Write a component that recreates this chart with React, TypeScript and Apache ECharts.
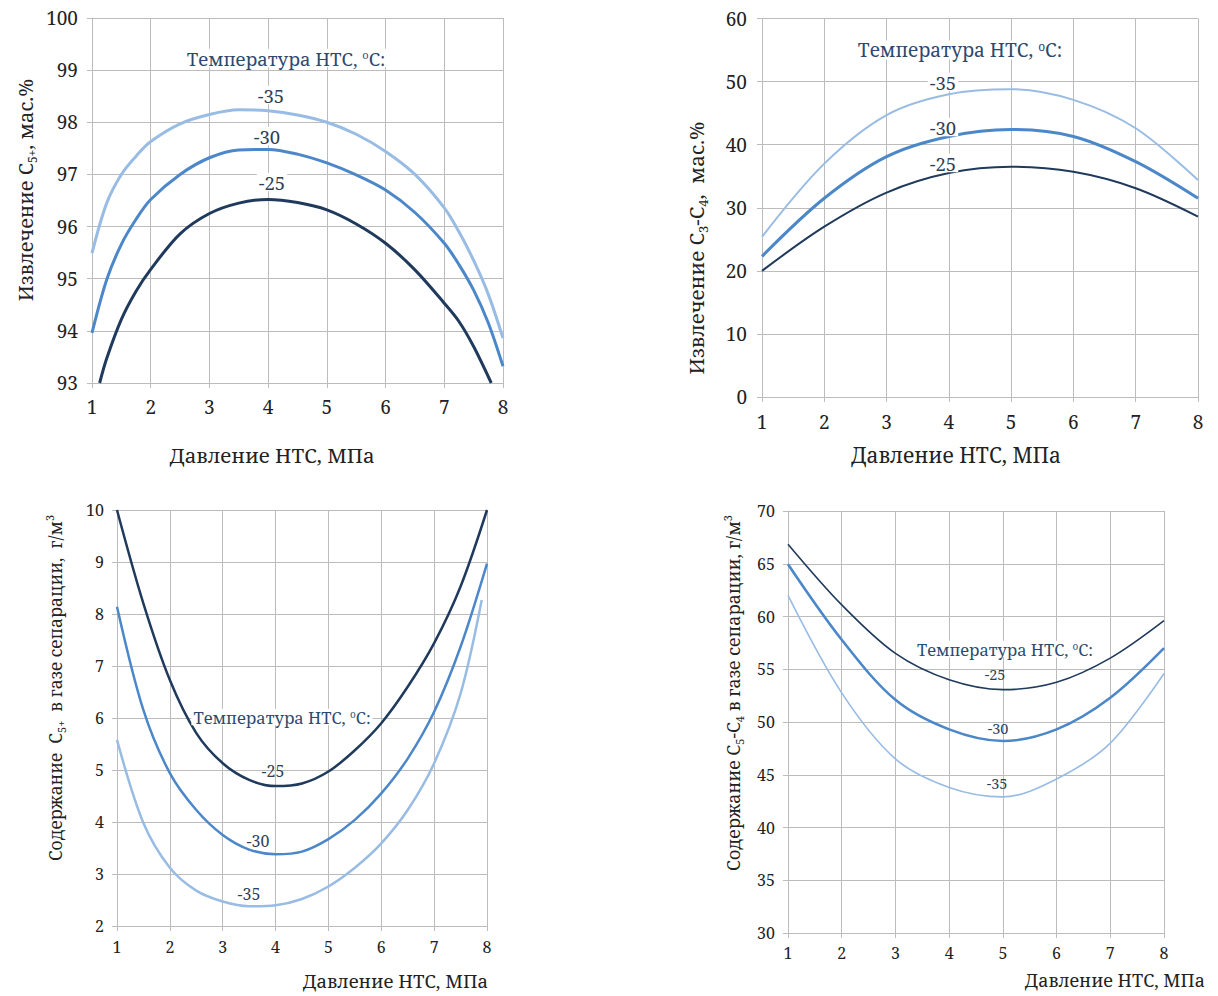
import React, { useEffect, useRef } from "react";
import * as echarts from "echarts";

// ---------- data ----------
const tempLabels = ["-35", "-30", "-25"];

// Panel 1: Извлечение C5+, мас.%
const p1X = [1, 1.25, 1.5, 1.75, 2, 2.5, 3, 3.5, 4, 4.5, 5, 5.5, 6, 6.5, 7, 7.25, 7.5, 7.75, 8];
const p1Minus35 = [95.49, 96.45, 97.0, 97.35, 97.63, 97.97, 98.15, 98.24, 98.22, 98.14, 98.0, 97.77, 97.44, 97.0, 96.36, 95.9, 95.35, 94.7, 93.86];
const p1Minus30 = [93.96, 94.98, 95.66, 96.14, 96.52, 97.0, 97.32, 97.47, 97.48, 97.39, 97.22, 96.99, 96.7, 96.27, 95.68, 95.27, 94.78, 94.15, 93.32];
const p1Minus25X = [1.13, 1.25, 1.5, 1.75, 2, 2.5, 3, 3.5, 4, 4.5, 5, 5.5, 6, 6.5, 7, 7.25, 7.5, 7.8];
const p1Minus25 = [93.0, 93.47, 94.22, 94.76, 95.18, 95.86, 96.25, 96.45, 96.52, 96.46, 96.32, 96.05, 95.68, 95.17, 94.53, 94.18, 93.7, 93.0];

// Panel 2: Извлечение C3-C4, мас.%
const p2X = [1, 2, 3, 4, 5, 6, 7, 8];
const p2Minus35 = [25.4, 37.0, 44.7, 48.0, 48.8, 47.1, 42.6, 34.4];
const p2Minus30 = [22.3, 31.5, 38.1, 41.3, 42.4, 41.3, 37.3, 31.5];
const p2Minus25 = [20.0, 27.0, 32.4, 35.5, 36.5, 35.7, 33.1, 28.6];

// Panel 3: Содержание C5+ в газе сепарации, г/м3
const p3X = [1, 1.5, 2, 2.5, 3, 3.5, 4, 4.5, 5, 5.5, 6, 6.5, 7, 7.5, 8];
const p3Minus25 = [10.0, 8.2, 6.73, 5.71, 5.13, 4.81, 4.69, 4.74, 4.97, 5.38, 5.9, 6.6, 7.44, 8.53, 10.0];
const p3Minus30 = [8.14, 6.15, 4.94, 4.23, 3.75, 3.47, 3.38, 3.43, 3.67, 4.04, 4.55, 5.22, 6.12, 7.37, 8.97];
const p3Minus35X = [1, 1.5, 2, 2.5, 3, 3.5, 4, 4.5, 5, 5.5, 6, 6.5, 7, 7.5, 7.9];
const p3Minus35 = [5.58, 3.98, 3.12, 2.68, 2.47, 2.38, 2.4, 2.52, 2.76, 3.12, 3.59, 4.23, 5.13, 6.47, 8.27];

// Panel 4: Содержание C5-C4 в газе сепарации, г/м3
const p4X = [1, 2, 3, 4, 5, 6, 7, 8];
const p4Minus25 = [66.85, 61.1, 56.5, 54.0, 53.07, 53.76, 56.05, 59.6];
const p4Minus30 = [64.96, 57.8, 52.1, 49.3, 48.2, 49.3, 52.3, 57.0];
const p4Minus35 = [62.0, 52.76, 46.5, 43.8, 42.9, 44.6, 48.0, 54.6];

const xTitle = "Давление НТС, МПа";
const legendTitle = "Температура НТС, {sup|o}С:";

// ---------- styles ----------
const FONT = "Noto Serif";
const DARK = "#1f3a5c";
const MID = "#4b87c9";
const LIGHT = "#98bce3";
const GRID = "#bcbcbc";
const LABEL = "#2e3f55";
const TITLE_BLUE = "#2c4a6e";

const zip = (xs: number[], ys: number[]) => xs.map((x, i) => [x, ys[i]]);

function App() {
  const ref = useRef<HTMLDivElement>(null);

  useEffect(() => {
    if (!ref.current) return;
    const chart = echarts.init(ref.current, null, { renderer: "svg" });

    const grids = [
      { left: 92, top: 18, width: 411, height: 365 },
      { left: 762, top: 18.5, width: 436, height: 378.5 },
      { left: 117, top: 510, width: 370, height: 416 },
      { left: 788, top: 511, width: 376, height: 422 },
    ];
    const yCfg = [
      { min: 93, max: 100, interval: 1, fs: 19, margin: 14 },
      { min: 0, max: 60, interval: 10, fs: 19, margin: 15 },
      { min: 2, max: 10, interval: 1, fs: 16, margin: 13 },
      { min: 30, max: 70, interval: 5, fs: 16, margin: 13 },
    ];
    const xCfg = [
      { fs: 19, margin: 14 },
      { fs: 19, margin: 15 },
      { fs: 16, margin: 13 },
      { fs: 16, margin: 12 },
    ];

    const axisCommon = {
      axisLine: { show: true, lineStyle: { color: GRID, width: 1 } },
      axisTick: { show: true, length: 5, inside: false, lineStyle: { color: GRID } },
      splitLine: { show: true, lineStyle: { color: GRID, width: 1 } },
    };

    const xAxis = grids.map((_, i) => ({
      type: "value",
      gridIndex: i,
      min: 1,
      max: 8,
      interval: 1,
      ...axisCommon,
      axisLabel: { color: "#222", fontFamily: FONT, fontSize: xCfg[i].fs, margin: xCfg[i].margin },
    }));
    const yAxis = grids.map((_, i) => ({
      type: "value",
      gridIndex: i,
      min: yCfg[i].min,
      max: yCfg[i].max,
      interval: yCfg[i].interval,
      ...axisCommon,
      axisLabel: { color: "#222", fontFamily: FONT, fontSize: yCfg[i].fs, margin: yCfg[i].margin },
    }));

    const line = (i: number, name: string, data: number[][], color: string, width: number) => ({
      type: "line",
      name,
      xAxisIndex: i,
      yAxisIndex: i,
      data,
      smooth: 0.33,
      showSymbol: false,
      symbol: "none",
      lineStyle: { color, width },
      clip: true,
    });

    const series = [
      line(0, tempLabels[0], zip(p1X, p1Minus35), LIGHT, 3),
      line(0, tempLabels[1], zip(p1X, p1Minus30), MID, 3),
      line(0, tempLabels[2], zip(p1Minus25X, p1Minus25), DARK, 3),
      line(1, tempLabels[0], zip(p2X, p2Minus35), LIGHT, 2),
      line(1, tempLabels[1], zip(p2X, p2Minus30), MID, 3),
      line(1, tempLabels[2], zip(p2X, p2Minus25), DARK, 2),
      line(2, tempLabels[0], zip(p3Minus35X, p3Minus35), LIGHT, 2.5),
      line(2, tempLabels[1], zip(p3X, p3Minus30), MID, 2.5),
      line(2, tempLabels[2], zip(p3X, p3Minus25), DARK, 2.5),
      line(3, tempLabels[0], zip(p4X, p4Minus35), LIGHT, 1.6),
      line(3, tempLabels[1], zip(p4X, p4Minus30), MID, 2.6),
      line(3, tempLabels[2], zip(p4X, p4Minus25), DARK, 1.6),
    ];

    const txt = (
      x: number,
      y: number,
      text: string,
      fontSize: number,
      opts: any = {}
    ) => {
      const small = Math.round(fontSize * 0.62);
      const color = opts.color || "#222";
      return {
        type: "text",
        x,
        y,
        rotation: opts.rotation || 0,
        z: 100,
        style: {
          text,
          fontFamily: FONT,
          fontSize,
          lineHeight: opts.tight ? fontSize : Math.round(fontSize * 1.3),
          fill: color,
          align: opts.align || "center",
          verticalAlign: "middle",
          backgroundColor: opts.bg ? "#fff" : undefined,
          padding: opts.bg ? [0, 2] : undefined,
          rich: {
            sub: { fontSize: small, lineHeight: small, verticalAlign: "bottom", fontFamily: FONT, fill: color },
            sup: { fontSize: small, lineHeight: small, verticalAlign: "top", fontFamily: FONT, fill: color },
          },
        },
      };
    };
    const R = Math.PI / 2;

    const graphic = [
      // panel 1
      txt(25, 190, "Извлечение C{sub|5+}, мас.%", 20, { rotation: R }),
      txt(272, 455, xTitle, 20.5),
      txt(286, 58, legendTitle, 18.5, { color: TITLE_BLUE, bg: true, tight: true }),
      txt(271, 95, tempLabels[0], 18.5, { color: LABEL, bg: true, tight: true }),
      txt(267, 136, tempLabels[1], 18.5, { color: LABEL, bg: true, tight: true }),
      txt(272, 182, tempLabels[2], 18.5, { color: LABEL, bg: true, tight: true }),
      // panel 2
      txt(696, 248, "Извлечение C{sub|3}-C{sub|4},  мас.%", 20.5, { rotation: R }),
      txt(956, 455, xTitle, 21),
      txt(960, 50, legendTitle, 19, { color: TITLE_BLUE, bg: true, tight: true }),
      txt(943, 82, tempLabels[0], 18.5, { color: LABEL, bg: true, tight: true }),
      txt(943, 127, tempLabels[1], 18.5, { color: LABEL, bg: true, tight: true }),
      txt(943, 163, tempLabels[2], 18.5, { color: LABEL, bg: true, tight: true }),
      // panel 3
      txt(55, 688, "Содержание  C{sub|5+}  в газе сепарации,  г/м{sup|3}", 17.4, { rotation: R }),
      txt(488, 980, xTitle, 18.5, { align: "right" }),
      txt(282, 717, legendTitle, 16.5, { color: TITLE_BLUE, bg: true, tight: true }),
      txt(273, 771, tempLabels[2], 16, { color: LABEL, tight: true }),
      txt(258, 841, tempLabels[1], 16, { color: LABEL, tight: true }),
      txt(249, 894, tempLabels[0], 16, { color: LABEL, tight: true }),
      // panel 4
      txt(733, 693, "Содержание C{sub|5}-C{sub|4} в газе сепарации, г/м{sup|3}", 17.8, { rotation: R }),
      txt(1205, 980, xTitle, 18, { align: "right" }),
      txt(1005, 649, legendTitle, 16.4, { color: TITLE_BLUE, bg: true, tight: true }),
      txt(995, 674, tempLabels[2], 14.5, { color: LABEL, tight: true }),
      txt(998, 728, tempLabels[1], 14.5, { color: LABEL, tight: true }),
      txt(997, 783, tempLabels[0], 14.5, { color: LABEL, tight: true }),
    ];

    chart.setOption({
      animation: false,
      backgroundColor: "#fff",
      grid: grids.map((g) => ({ ...g, containLabel: false })),
      xAxis,
      yAxis,
      series,
      graphic,
    });

    return () => {
      chart.dispose();
    };
  }, []);

  return (
    <div
      ref={ref}
      style={{ position: "absolute", left: 0, top: 0, width: 1218, height: 996 }}
    />
  );
}

export default App;
